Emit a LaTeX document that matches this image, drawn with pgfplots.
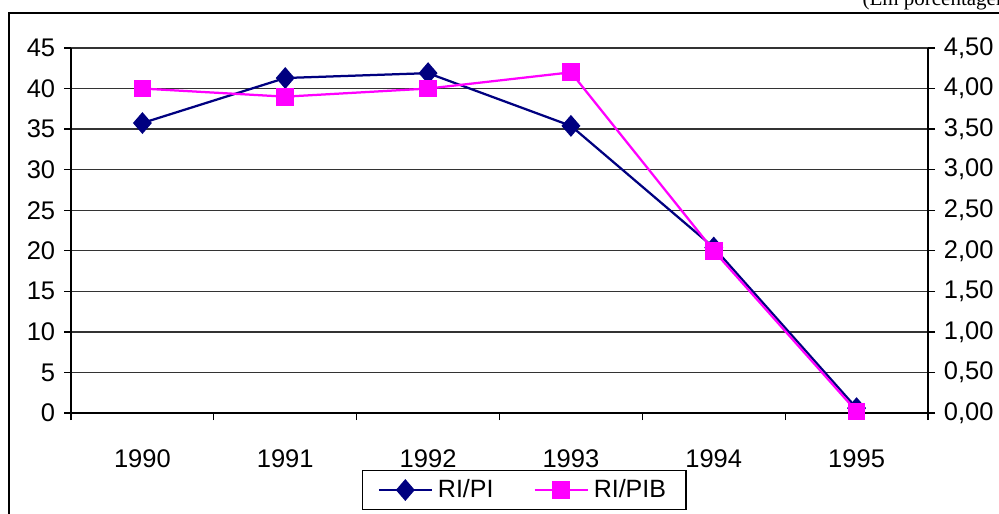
\documentclass[border=0pt]{standalone}
\usepackage{pgfplots}
\pgfplotsset{compat=1.18}
\usepackage{fontspec}
\setmainfont{Liberation Sans}
\newfontfamily\seriffont{Liberation Serif}
\definecolor{navyc}{RGB}{0,0,128}
\definecolor{magc}{RGB}{255,0,255}
\begin{document}
\begin{tikzpicture}[x=0.4pt,y=0.4pt]
\path[use as bounding box, clip] (0,0) rectangle (999,513);
\draw[line width=0.7pt] (9,-20) rectangle (1030,500);
\node[anchor=base west, inner sep=0pt, font=\seriffont\fontsize{8.4}{10}\selectfont] at (862,507) {(Em porcentagem)};
\pgfplotsset{
  common/.style={
    scale only axis, width=342.8pt, height=146pt,
    at={(28.4pt,40pt)}, anchor=south west,
    xmin=0.5, xmax=6.5,
    tick align=outside, major tick length=2.8pt,
    tick style={black, line width=0.5pt},
    axis line style={black, line width=0.5pt},
    /pgf/number format/assume math mode=true,
    ticklabel style={font=\fontsize{10.2}{12}\selectfont},
  }
}
\begin{axis}[common,
  ymin=0, ymax=45,
  axis x line*=bottom, axis y line*=left,
  ytick={0,5,...,45},
  ymajorgrids, grid style={black!80, line width=0.5pt},
  xtick={0.5,1.5,...,6.5}, xticklabels={},
  extra x ticks={1,2,3,4,5,6},
  extra x tick labels={1990,1991,1992,1993,1994,1995},
  extra x tick style={major tick length=0pt, grid=none, xticklabel style={yshift=-11pt}},
  legend style={at={(0.529,-0.211)}, anchor=center, legend columns=2,
    draw=black, line width=0.5pt, font=\fontsize{10}{12}\selectfont,
    inner xsep=6pt, inner ysep=1.5pt,
    /tikz/every even column/.append style={column sep=14pt}},
  legend image code/.code={\draw[mark repeat=2,mark phase=2] plot coordinates {(0pt,0pt) (10.6pt,0pt) (21.2pt,0pt)};},
]
\addplot[navyc, line width=0.9pt, mark=diamond*, mark size=3.7pt, mark options={solid, fill=navyc, xscale=1.15}]
  coordinates {(1,35.75) (2,41.3) (3,41.9) (4,35.4) (5,20.4) (6,0.6)};
\addlegendentry{RI/PI}
\addlegendimage{magc, line width=0.9pt, mark=square*, mark size=3.1pt, mark options={solid, fill=magc}}
\addlegendentry{RI/PIB}
\end{axis}
\begin{axis}[common,
  ymin=0, ymax=4.5,
  axis y line*=right, axis x line=none,
  ytick={0,0.5,...,4.5},
  yticklabel style={/pgf/number format/.cd, fixed, fixed zerofill, precision=2, use comma},
]
\addplot[magc, line width=0.9pt, mark=square*, mark size=3.1pt, mark options={solid, fill=magc}]
  coordinates {(1,4.0) (2,3.9) (3,4.0) (4,4.2) (5,2.0) (6,0.02)};
\end{axis}
\end{tikzpicture}
\end{document}
